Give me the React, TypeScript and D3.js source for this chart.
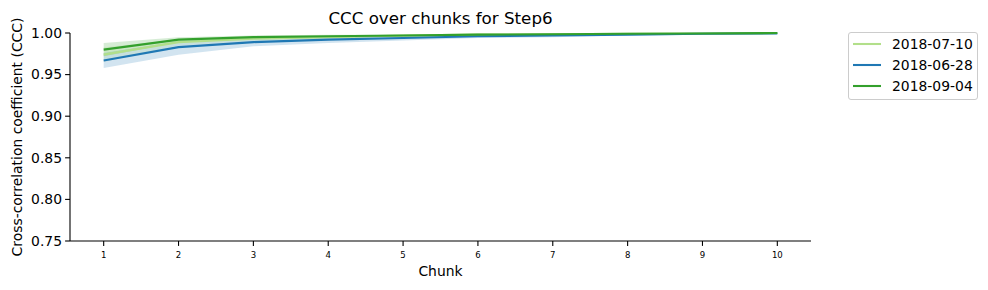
import React from "react";
import * as d3 from "d3";

const chunks = [1, 2, 3, 4, 5, 6, 7, 8, 9, 10];
const seriesNames = ["2018-07-10", "2018-06-28", "2018-09-04"];
const seriesColors = ["#b2df8a", "#1f78b4", "#33a02c"];

const mean0710 = [0.974, 0.989, 0.993, 0.995, 0.997, 0.998, 0.9985, 0.999, 0.9995, 0.9999];
const low0710 = [0.965, 0.985, 0.990, 0.993, 0.995, 0.997, 0.998, 0.9985, 0.9992, 0.9997];
const high0710 = [0.983, 0.992, 0.995, 0.997, 0.998, 0.999, 0.9993, 0.9996, 0.9998, 1.0];

const mean0628 = [0.967, 0.983, 0.989, 0.992, 0.994, 0.996, 0.997, 0.998, 0.999, 0.9995];
const low0628 = [0.958, 0.974, 0.984, 0.988, 0.991, 0.994, 0.995, 0.997, 0.998, 0.999];
const high0628 = [0.976, 0.990, 0.993, 0.995, 0.997, 0.998, 0.998, 0.999, 0.9995, 1.0];

const mean0904 = [0.980, 0.992, 0.995, 0.996, 0.997, 0.998, 0.9985, 0.999, 0.9995, 0.9999];
const low0904 = [0.972, 0.989, 0.993, 0.994, 0.996, 0.997, 0.998, 0.9985, 0.9992, 0.9997];
const high0904 = [0.988, 0.995, 0.997, 0.998, 0.998, 0.999, 0.9993, 0.9996, 0.9998, 1.0];

const yTicks = [0.75, 0.8, 0.85, 0.9, 0.95, 1.0];

const means = [mean0710, mean0628, mean0904];
const lows = [low0710, low0628, low0904];
const highs = [high0710, high0628, high0904];

export default function App() {
  const W = 988, H = 290;
  const left = 70, right = 811, top = 33, bottom = 241;
  const x = d3.scaleLinear().domain([0.55, 10.45]).range([left, right]);
  const y = d3.scaleLinear().domain([0.75, 1.0]).range([bottom, top]);
  const line = d3.line<number>().x((_, i) => x(chunks[i])).y((d) => y(d));
  const area = (lo: number[], hi: number[]) =>
    d3.area<number>()
      .x((_, i) => x(chunks[i]))
      .y0((_, i) => y(lo[i]))
      .y1((_, i) => y(hi[i]))(chunks) || "";
  const font = "DejaVu Sans, sans-serif";
  const fs = 13.9;
  return (
    <svg width={W} height={H} style={{ position: "absolute", left: 0, top: 0, background: "#fff" }} fontFamily={font}>
      <rect width={W} height={H} fill="#fff" />
      <text x={(left + right) / 2} y={24} textAnchor="middle" fontSize={16.7} fill="#000">CCC over chunks for Step6</text>
      {seriesNames.map((n, s) => (
        <path key={"a" + n} d={area(lows[s], highs[s])} fill={seriesColors[s]} fillOpacity={0.2} stroke="none" />
      ))}
      {seriesNames.map((n, s) => (
        <path key={"l" + n} d={line(means[s]) || ""} fill="none" stroke={seriesColors[s]} strokeWidth={2.08} />
      ))}
      <line x1={left} x2={left} y1={top} y2={bottom} stroke="#000" strokeWidth={1.1} />
      <line x1={left} x2={right} y1={bottom} y2={bottom} stroke="#000" strokeWidth={1.1} />
      {yTicks.map((t) => (
        <g key={t}>
          <line x1={left - 4.9} x2={left} y1={y(t)} y2={y(t)} stroke="#000" strokeWidth={1.1} />
          <text x={left - 8} y={y(t)} dy="0.35em" textAnchor="end" fontSize={fs} fill="#000">{t.toFixed(2)}</text>
        </g>
      ))}
      {chunks.map((c) => (
        <g key={c}>
          <line x1={x(c)} x2={x(c)} y1={bottom} y2={bottom + 4.9} stroke="#000" strokeWidth={1.1} />
          <text x={x(c)} y={bottom + 17} textAnchor="middle" fontSize={9.5} fill="#000" fontFamily="DejaVu Sans Condensed, DejaVu Sans, sans-serif" style={{ fontStretch: "condensed" }}>{c}</text>
        </g>
      ))}
      <text x={(left + right) / 2} y={276} textAnchor="middle" fontSize={fs} fill="#000">Chunk</text>
      <text transform={`translate(22,${(top + bottom) / 2}) rotate(-90)`} textAnchor="middle" fontSize={fs} fill="#000">Cross-correlation coefficient (CCC)</text>
      <rect x={848.5} y={32.5} width={129} height={67} rx={2.5} fill="#fff" stroke="#ccc" strokeWidth={1} />
      {seriesNames.map((n, s) => (
        <g key={"lg" + n}>
          <line x1={853} x2={881} y1={44 + s * 21} y2={44 + s * 21} stroke={seriesColors[s]} strokeWidth={2.08} />
          <text x={892} y={44 + s * 21} dy="0.35em" fontSize={fs} fill="#000">{n}</text>
        </g>
      ))}
    </svg>
  );
}
